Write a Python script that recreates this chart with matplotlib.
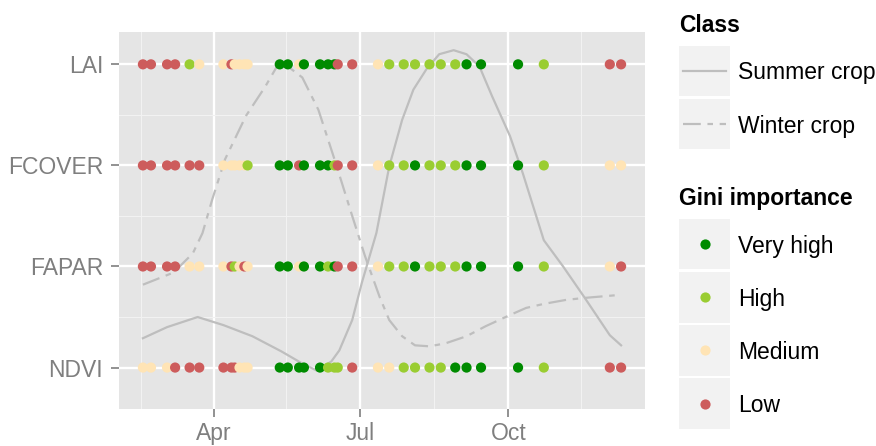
import matplotlib
matplotlib.use("Agg")
import matplotlib.pyplot as plt
import matplotlib.dates as mdates
import pandas as pd
from matplotlib.patches import Rectangle

plt.rcParams['font.family'] = ['Liberation Sans', 'DejaVu Sans']

# acquisition dates and Gini importance class per variable
dates = pd.to_datetime([
    "2013-02-16", "2013-02-21", "2013-03-03", "2013-03-08", "2013-03-17", "2013-03-23",
    "2013-04-07", "2013-04-12", "2013-04-14", "2013-04-17", "2013-04-20", "2013-04-22",
    "2013-05-12", "2013-05-17", "2013-05-24", "2013-05-27",
    "2013-06-06", "2013-06-11", "2013-06-15", "2013-06-17", "2013-06-26",
    "2013-07-12", "2013-07-19", "2013-07-28", "2013-08-04", "2013-08-13", "2013-08-20",
    "2013-08-29", "2013-09-05", "2013-09-14", "2013-10-07", "2013-10-23",
    "2013-12-03", "2013-12-10"])

variables = ["NDVI", "FAPAR", "FCOVER", "LAI"]
ndvi_imp = "M M M L L L L L L M M M V V V V V H H H L M M H H H H V V V V H L L".split()
fapar_imp = "L L L L M M M L H M L M V V M V V H V L L M H H V H H H V V V H M L".split()
fcover_imp = "L L L L L L M M M M M H V V L V V V H L L M H H V H H H V V V H M M".split()
lai_imp = "L L L L H M M L M M M M V V M V V V V L L M H H H H H H V V V H L L".split()

imp_codes = ["V", "H", "M", "L"]
imp_labels = ["Very high", "High", "Medium", "Low"]
imp_colors = ["#008B00", "#9ACD32", "#FFE4B5", "#CD5C5C"]

# mean temporal profiles of the two crop classes (scaled to the row axis)
summer_dates = pd.to_datetime([
    "2013-02-16", "2013-03-03", "2013-03-22", "2013-04-07", "2013-04-25", "2013-05-13",
    "2013-05-26", "2013-06-04", "2013-06-13", "2013-06-18", "2013-06-26", "2013-07-02",
    "2013-07-11", "2013-07-19", "2013-07-27", "2013-08-03", "2013-08-11", "2013-08-19",
    "2013-08-28", "2013-09-05", "2013-09-13", "2013-09-21", "2013-10-02", "2013-10-10",
    "2013-10-23", "2013-11-04", "2013-11-17", "2013-12-03", "2013-12-10"])
summer_vals = [1.29, 1.40, 1.50, 1.42, 1.31, 1.16, 1.04, 0.97, 1.06, 1.17, 1.47, 1.84,
               2.33, 2.99, 3.45, 3.75, 3.95, 4.10, 4.14, 4.10, 3.98, 3.68, 3.29, 2.92,
               2.26, 2.00, 1.70, 1.32, 1.22]

winter_dates = pd.to_datetime([
    "2013-02-16", "2013-03-07", "2013-03-19", "2013-03-25", "2013-03-31", "2013-04-08",
    "2013-04-21", "2013-05-03", "2013-05-11", "2013-05-17", "2013-05-26", "2013-06-05",
    "2013-06-15", "2013-06-26", "2013-07-04", "2013-07-13", "2013-07-19", "2013-07-27",
    "2013-08-04", "2013-08-13", "2013-08-23", "2013-09-05", "2013-09-17", "2013-10-02",
    "2013-10-12", "2013-10-23", "2013-11-06", "2013-11-18", "2013-12-10"])
winter_vals = [1.82, 1.94, 2.13, 2.33, 2.66, 3.06, 3.49, 3.78, 4.00, 3.98, 3.87, 3.55,
               3.06, 2.50, 2.10, 1.70, 1.47, 1.31, 1.22, 1.21, 1.24, 1.31, 1.41, 1.52,
               1.59, 1.63, 1.67, 1.69, 1.72]

line_grey = "#BEBEBE"
winter_dash = (0, (8, 3, 2.5, 3))
dot_size = 54

fig = plt.figure(figsize=(8.76, 4.46), dpi=100)
ax = fig.add_axes([119 / 876, 1 - 409 / 446, 526 / 876, 377 / 446])
ax.set_facecolor("#E5E5E5")

ax.plot(summer_dates, summer_vals, color=line_grey, lw=1.6, zorder=2)
ax.plot(winter_dates, winter_vals, color=line_grey, lw=1.6, linestyle=winter_dash, zorder=2)

color_of = dict(zip(imp_codes, imp_colors))
for i, imp in enumerate([ndvi_imp, fapar_imp, fcover_imp, lai_imp]):
    ax.scatter(dates, [i + 1] * len(dates), c=[color_of[k] for k in imp],
               s=dot_size, linewidths=0, zorder=3)

# axes ranges and grid
span = dates.max() - dates.min()
ax.set_xlim(dates.min() - span * 0.05, dates.max() + span * 0.05)
ax.set_ylim(0.59, 4.32)
ax.set_yticks([1, 2, 3, 4])
ax.set_yticklabels(variables)
ax.set_yticks([1.5, 2.5, 3.5], minor=True)
ax.xaxis.set_major_locator(mdates.MonthLocator(bymonth=[1, 4, 7, 10]))
ax.xaxis.set_major_formatter(mdates.DateFormatter("%b"))
ax.set_xticks(pd.to_datetime(["2013-02-15", "2013-05-16", "2013-08-16", "2013-11-15"]), minor=True)

ax.grid(which="major", color="white", lw=1.7)
ax.grid(which="minor", color="#F2F2F2", lw=0.8)
ax.set_axisbelow(True)
for s in ax.spines.values():
    s.set_visible(False)
ax.tick_params(which="major", length=6, width=1.2, color="#7F7F7F",
               labelcolor="#7F7F7F", labelsize=16.5)
ax.tick_params(axis="y", pad=5.5)
ax.tick_params(axis="x", pad=3.5)
ax.tick_params(which="minor", length=0)

# legend panel in pixel coordinates
lg = fig.add_axes([0, 0, 1, 1], zorder=5)
lg.set_xlim(0, 876)
lg.set_ylim(446, 0)
lg.axis("off")

key_x0, key_x1 = 679, 730
lg.text(key_x0, 31.5, "Class", fontsize=16.5, fontweight="bold", va="baseline")
class_labels = ["Summer crop", "Winter crop"]
class_styles = ["-", winter_dash]
for j, (lab, ls) in enumerate(zip(class_labels, class_styles)):
    top = 45.7 + j * 53.2
    cy = top + 25.2
    lg.add_patch(Rectangle((key_x0, top), key_x1 - key_x0, 50.4, color="#F2F2F2", lw=0))
    lg.plot([683, 726], [cy, cy], color=line_grey, lw=1.6, linestyle=ls)
    lg.text(738, cy + 8.5, lab, fontsize=16.5, va="baseline")

lg.text(key_x0, 204.5, "Gini importance", fontsize=16.5, fontweight="bold", va="baseline")
for j, (lab, col) in enumerate(zip(imp_labels, imp_colors)):
    top = 219 + j * 53.1
    cy = top + 25.2
    lg.add_patch(Rectangle((key_x0, top), key_x1 - key_x0, 50.4, color="#F2F2F2", lw=0))
    lg.scatter([704.5], [cy], s=dot_size, color=col, linewidths=0)
    lg.text(738, cy + 8.5, lab, fontsize=16.5, va="baseline")

fig.savefig("out.png", dpi=100)
